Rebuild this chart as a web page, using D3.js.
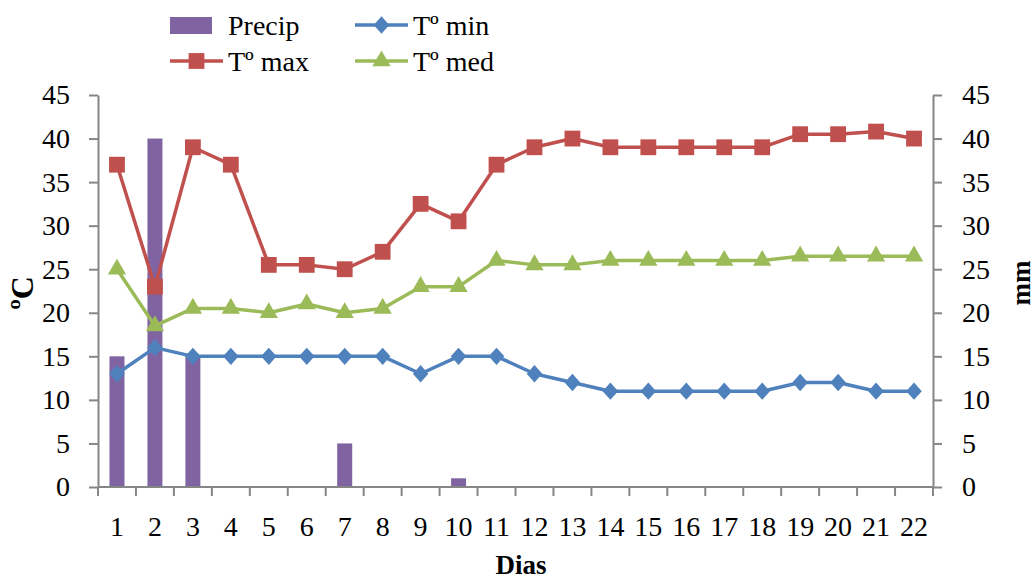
<!DOCTYPE html>
<html><head><meta charset="utf-8">
<script src="https://cdn.jsdelivr.net/npm/d3@7"></script>
<style>body{margin:0;background:#fff}svg{display:block}svg text{font-family:"Liberation Serif","Times New Roman",serif}</style>
</head><body>
<svg id="c" width="1035" height="579"></svg>
<script>
const days = ["1","2","3","4","5","6","7","8","9","10","11","12","13","14","15","16","17","18","19","20","21","22"];
const precip = [15,40,15,0,0,0,5,0,0,1,0,0,0,0,0,0,0,0,0,0,0,0];
const tmin = [13,16,15,15,15,15,15,15,13,15,15,13,12,11,11,11,11,11,12,12,11,11];
const tmax = [37,23,39,37,25.5,25.5,25,27,32.5,30.5,37,39,40,39,39,39,39,39,40.5,40.5,40.8,40];
const tmed = [25,18.5,20.5,20.5,20,21,20,20.5,23,23,26,25.5,25.5,26,26,26,26,26,26.5,26.5,26.5,26.5];
const yTicks = [0,5,10,15,20,25,30,35,40,45];

const svg = d3.select("#c");
const L = 98, R = 933, T = 95, B = 487;
const font = '"Liberation Serif","Times New Roman",serif';
const axisColor = "#868686";
const cPrecip = "#8064A2", cMin = "#4F81BD", cMax = "#C0504D", cMed = "#9BBB59";
const FS = 28;

const x = d3.scaleBand().domain(days).range([L, R]).paddingInner(0).paddingOuter(0);
const y = d3.scaleLinear().domain([0,45]).range([B, T]);
const y2 = d3.scaleLinear().domain([0,45]).range([B, T]);
const cx = d => x(d) + x.bandwidth()/2;

// custom diamond (wider than d3's)
const wideDiamond = { draw(ctx, size){ const h = Math.sqrt(size)/2, w = h*0.9;
  ctx.moveTo(0,-h); ctx.lineTo(w,0); ctx.lineTo(0,h); ctx.lineTo(-w,0); ctx.closePath(); } };

// bars
svg.append("g").selectAll("rect").data(days.map((d,i)=>({d, v:precip[i]})).filter(o=>o.v>0))
  .join("rect")
  .attr("x", o => cx(o.d) - 7.5).attr("width", 15)
  .attr("y", o => y2(o.v)).attr("height", o => B - y2(o.v))
  .attr("fill", cPrecip);

// axes
function styleAxis(g){
  g.attr("font-family", font).attr("font-size", FS);
  g.selectAll(".domain").attr("stroke", axisColor).attr("stroke-width", 2);
  g.selectAll(".tick line").attr("stroke", axisColor).attr("stroke-width", 2);
  g.selectAll("text").style("font-family", font).style("font-size", FS+"px").attr("fill", "#000");
}
const gl = svg.append("g").attr("transform", `translate(${L},0)`)
  .call(d3.axisLeft(y).tickValues(yTicks).tickSize(9).tickSizeOuter(0).tickPadding(19));
styleAxis(gl);
const gr = svg.append("g").attr("transform", `translate(${R},0)`)
  .call(d3.axisRight(y2).tickValues(yTicks).tickSize(9).tickSizeOuter(0).tickPadding(20));
styleAxis(gr);

const gx = svg.append("g").attr("transform", `translate(0,${B})`)
  .call(d3.axisBottom(x).tickSize(0).tickPadding(29));
styleAxis(gx);
gx.selectAll(".domain").attr("d", `M${L},0H${R}`);
const bounds = days.map(d => x(d)).concat([R]);
gx.selectAll("line.bt").data(bounds).join("line").attr("class","bt")
  .attr("x1", d=>d).attr("x2", d=>d).attr("y1", 0).attr("y2", 9)
  .attr("stroke", axisColor).attr("stroke-width", 2);

// axis titles
svg.append("text").attr("x", 521).attr("y", 574).attr("text-anchor","middle")
  .style("font-size", "27px").attr("font-weight","bold").text("Dias");
svg.append("text").attr("transform","translate(33,293) rotate(-90)").attr("text-anchor","middle")
  .style("font-size", "32px").attr("font-weight","bold").text("ºC");
svg.append("text").attr("transform","translate(1030,283) rotate(-90)").attr("text-anchor","middle")
  .style("font-size", "27px").attr("font-weight","bold").text("mm");

// lines
const series = [
  {name:"Tº max", vals:tmax, color:cMax, sym:d3.symbolSquare, size:250},
  {name:"Tº med", vals:tmed, color:cMed, sym:d3.symbolTriangle, size:145},
  {name:"Tº min", vals:tmin, color:cMin, sym:wideDiamond, size:300},
];
const line = d3.line().x(d=>cx(d.d)).y(d=>y(d.v));
series.forEach(s=>{
  const pts = days.map((d,i)=>({d, v:s.vals[i]}));
  svg.append("path").datum(pts).attr("d", line).attr("fill","none")
    .attr("stroke", s.color).attr("stroke-width", 3.5).attr("stroke-linejoin","round");
  svg.append("g").selectAll("path").data(pts).join("path")
    .attr("transform", p => `translate(${cx(p.d)},${y(p.v)})`)
    .attr("d", d3.symbol().type(s.sym).size(s.size)).attr("fill", s.color);
});

// legend
const lg = svg.append("g");
lg.append("rect").attr("x",170).attr("y",17).attr("width",42).attr("height",17).attr("fill",cPrecip);
function legLine(x0, yc, s){
  lg.append("line").attr("x1",x0).attr("x2",x0+53).attr("y1",yc).attr("y2",yc)
    .attr("stroke",s.color).attr("stroke-width",3.5);
  lg.append("path").attr("transform",`translate(${x0+26.5},${yc})`)
    .attr("d", d3.symbol().type(s.sym).size(s.size)).attr("fill", s.color);
}
legLine(355, 25, series[2]);
legLine(170, 61, series[0]);
legLine(355, 61, series[1]);
const lt = [["Precip",228,35],["Tº min",413,35],["Tº max",228,71],["Tº med",413,71]];
lt.forEach(t=>lg.append("text").attr("x",t[1]).attr("y",t[2]).style("font-size","28px").text(t[0]));
</script>
</body></html>
